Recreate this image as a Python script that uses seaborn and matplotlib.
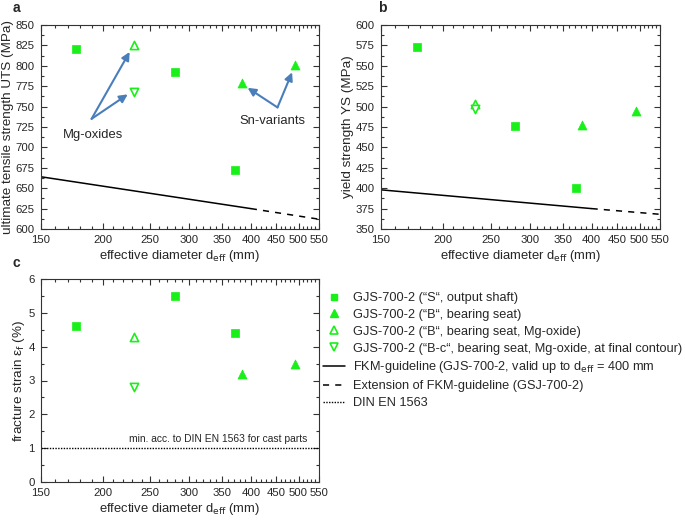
#!/usr/bin/env python3
"""Strength and fracture strain vs effective diameter (GJS-700-2)."""

import numpy as np
import matplotlib
matplotlib.use("Agg")
import matplotlib.pyplot as plt
import matplotlib.ticker as mticker
from matplotlib.lines import Line2D
import seaborn as sns

sns.set_style("ticks")
plt.rcParams['font.family'] = ['Liberation Sans', 'DejaVu Sans']

# --- data ---
groups = ["S", "B", "B_mg", "Bc_mg"]
d_eff = {"S": [177, 280, 372], "B": [383, 491], "B_mg": [232], "Bc_mg": [232]}
uts = {"S": [821, 793, 672], "B": [779, 801], "B_mg": [825], "Bc_mg": [768]}
ys = {"S": [573, 476, 400], "B": [478, 495], "B_mg": [503], "Bc_mg": [497]}
strain = {"S": [4.6, 5.5, 4.4], "B": [3.2, 3.5], "B_mg": [4.3], "Bc_mg": [2.8]}

fkm_d = [150, 400]
fkm_ext_d = [400, 550]
fkm_uts = [664, 625]
fkm_uts_ext = [625, 612]
fkm_ys = [398, 375]
fkm_ys_ext = [375, 368]
din_min = 1.0

labels = ['GJS-700-2 (\u201cS\u201c, output shaft)',
          'GJS-700-2 (\u201cB\u201c, bearing seat)',
          'GJS-700-2 (\u201cB\u201c, bearing seat, Mg-oxide)',
          'GJS-700-2 (\u201cB-c\u201c, bearing seat, Mg-oxide, at final contour)',
          'FKM-guideline (GJS-700-2, valid up to d$_{\\mathrm{eff}}$ = 400 mm',
          'Extension of FKM-guideline (GSJ-700-2)',
          'DIN EN 1563']

x_ticks = [150, 200, 250, 300, 350, 400, 450, 500, 550]

GREEN = '#19f019'
styles = {
    "S": dict(marker='s', s=32, color=GREEN, edgecolor=GREEN),
    "B": dict(marker='^', s=42, color=GREEN, edgecolor=GREEN),
    "B_mg": dict(marker='^', s=35, facecolor='white', edgecolor=GREEN, linewidth=1.2),
    "Bc_mg": dict(marker='v', s=35, facecolor='white', edgecolor=GREEN, linewidth=1.2),
}
ARROW = '#4a7ebb'
XLABEL_FS = 9.4
YLABEL_FS = 9.7
TICK_FS = 8.2

W, H = 685, 524
fig = plt.figure(figsize=(W / 100, H / 100), dpi=100)


def add_ax(l, t, r, b):
    return fig.add_axes([l / W, 1 - b / H, (r - l) / W, (b - t) / H])


ax_a = add_ax(41, 25, 319, 229)
ax_b = add_ax(381, 25, 660, 229)
ax_c = add_ax(41, 279, 319, 482)


def scatter_groups(ax, values):
    for g in groups:
        st = dict(styles[g])
        if 'facecolor' in st:
            ax.scatter(d_eff[g], values[g], marker=st['marker'], s=st['s'],
                       facecolors=st['facecolor'], edgecolors=st['edgecolor'],
                       linewidths=st['linewidth'], zorder=3)
        else:
            sns.scatterplot(x=d_eff[g], y=values[g], ax=ax, marker=st['marker'],
                            s=st['s'], color=st['color'], edgecolor=st['edgecolor'],
                            linewidth=0.5, zorder=3)


def style_axis(ax, ylim, yticks, yminor, ylabel):
    ax.set_xscale('log')
    ax.set_xlim(150, 550)
    ax.xaxis.set_major_locator(mticker.FixedLocator(x_ticks))
    ax.xaxis.set_major_formatter(mticker.FixedFormatter([str(t) for t in x_ticks]))
    minor = [v for v in range(160, 550, 10) if v not in x_ticks]
    ax.xaxis.set_minor_locator(mticker.FixedLocator(minor))
    ax.xaxis.set_minor_formatter(mticker.NullFormatter())
    ax.set_ylim(*ylim)
    ax.set_yticks(yticks)
    ax.yaxis.set_minor_locator(mticker.MultipleLocator(yminor))
    ax.tick_params(which='both', direction='in', top=True, right=True,
                   labelsize=TICK_FS, width=0.8, color='#333333', pad=4.5)
    ax.tick_params(which='major', length=4)
    ax.tick_params(which='minor', length=2)
    ax.set_xlabel('effective diameter d$_{\\mathrm{eff}}$ (mm)', fontsize=XLABEL_FS, labelpad=2)
    ax.set_ylabel(ylabel, fontsize=YLABEL_FS, labelpad=1)
    for sp in ax.spines.values():
        sp.set_linewidth(0.8)
        sp.set_color('#333333')


# panel a
scatter_groups(ax_a, uts)
ax_a.plot(fkm_d, fkm_uts, color='black', lw=1.1)
ax_a.plot(fkm_ext_d, fkm_uts_ext, color='black', lw=1.1, ls=(0, (4, 4)))
style_axis(ax_a, (600, 850), np.arange(600, 851, 25), 12.5,
           'ultimate tensile strength UTS (MPa)')
ap = dict(arrowstyle='-|>', color=ARROW, lw=1.5, mutation_scale=12, shrinkA=0, shrinkB=0)
ax_a.annotate('', xy=(227, 817), xytext=(190, 735), arrowprops=ap)
ax_a.annotate('', xy=(225, 765), xytext=(190, 735), arrowprops=ap)
ax_a.text(191, 722, 'Mg-oxides', fontsize=XLABEL_FS, ha='center', va='top')
ax_a.annotate('', xy=(394, 773), xytext=(453, 749), arrowprops=ap)
ax_a.annotate('', xy=(485, 792), xytext=(453, 749), arrowprops=ap)
ax_a.text(443, 732, 'Sn-variants', fontsize=XLABEL_FS, ha='center', va='center')

# panel b
scatter_groups(ax_b, ys)
ax_b.plot(fkm_d, fkm_ys, color='black', lw=1.1)
ax_b.plot(fkm_ext_d, fkm_ys_ext, color='black', lw=1.1, ls=(0, (4, 4)))
style_axis(ax_b, (350, 600), np.arange(350, 601, 25), 12.5, 'yield strength YS (MPa)')

# panel c
scatter_groups(ax_c, strain)
ax_c.axhline(din_min, color='black', lw=1.0, ls=(0, (1, 1)))
ax_c.text(522, din_min + 0.12, 'min. acc. to DIN EN 1563 for cast parts',
          fontsize=7.4, ha='right', va='bottom')
style_axis(ax_c, (0, 6), np.arange(0, 7, 1), 0.5,
           'fracture strain \u03b5$_{\\mathrm{f}}$ (%)')

for (x, y), letter in [((16, 8), 'a'), ((382, 8), 'b'), ((16, 263), 'c')]:
    fig.text(x / W, 1 - y / H, letter, fontsize=10, fontweight='bold',
             ha='center', va='center')

# legend
handles = [
    Line2D([], [], ls='', marker='s', ms=5, color=GREEN),
    Line2D([], [], ls='', marker='^', ms=6, color=GREEN),
    Line2D([], [], ls='', marker='^', ms=6, mfc='white', mec=GREEN, mew=1.2),
    Line2D([], [], ls='', marker='v', ms=6, mfc='white', mec=GREEN, mew=1.2),
    Line2D([], [], color='black', lw=1.1),
    Line2D([], [], color='black', lw=1.1, ls=(0, (4, 4))),
    Line2D([], [], color='black', lw=1.0, ls=(0, (1, 1))),
]
fig.legend(handles, labels, loc='upper left', bbox_to_anchor=(323 / W, 1 - 292 / H),
           frameon=False, fontsize=9.2, handlelength=1.75, handletextpad=0.6,
           labelspacing=0.38, borderaxespad=0, borderpad=0)

fig.savefig('out.png', dpi=100)
